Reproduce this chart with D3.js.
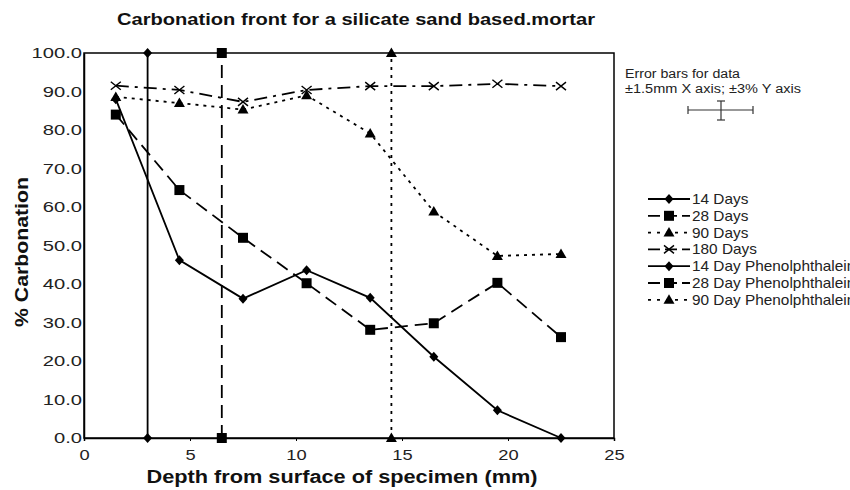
<!DOCTYPE html>
<html><head><meta charset="utf-8">
<script src="https://cdn.jsdelivr.net/npm/d3@7"></script>
<style>body{margin:0;background:#fff;} svg{display:block;font-family:"Liberation Sans",Arial,sans-serif;}</style>
</head><body>
<svg id="c" width="850" height="490"></svg>
<script>
const depths = [1.5, 4.5, 7.5, 10.5, 13.5, 16.5, 19.5, 22.5];
const days14 = [88, 46.2, 36.2, 43.6, 36.4, 21.1, 7.2, 0];
const days28 = [84, 64.4, 52, 40.2, 28.1, 29.8, 40.3, 26.2];
const days90 = [88.6, 87, 85.3, 89, 79.1, 58.8, 47.3, 47.8];
const days180 = [91.5, 90.4, 87.3, 90.4, 91.4, 91.4, 92, 91.4];
const phenol14 = {x: [3, 3], y: [0, 100]};
const phenol28 = {x: [6.5, 6.5], y: [0, 100]};
const phenol90 = {x: [14.5, 14.5], y: [0, 100]};
const xTicks = [0, 5, 10, 15, 20, 25];
const yTicks = [0, 10, 20, 30, 40, 50, 60, 70, 80, 90, 100];
const legendLabels = ["14 Days", "28 Days", "90 Days", "180 Days", "14 Day Phenolphthalein", "28 Day Phenolphthalein", "90 Day Phenolphthalein"];

const svg = d3.select("#c");
const L = 84, R = 614, T = 53, B = 438;
const x = d3.scaleLinear().domain([0, 25]).range([L, R]);
const y = d3.scaleLinear().domain([0, 100]).range([B, T]);

function stretch(sel, f) {
  sel.each(function () {
    const n = this.getComputedTextLength();
    d3.select(this).attr("textLength", n * f).attr("lengthAdjust", "spacingAndGlyphs");
  });
}
function fit(sel, w) { sel.attr("textLength", w).attr("lengthAdjust", "spacingAndGlyphs"); }

// title
fit(svg.append("text").attr("x", 356).attr("y", 25).attr("text-anchor", "middle")
  .attr("font-size", 17).attr("font-weight", "bold").attr("fill", "#111")
  .text("Carbonation front for a silicate sand based.mortar"), 478);

// frame
svg.append("rect").attr("x", L).attr("y", T).attr("width", R - L).attr("height", B - T)
  .attr("fill", "none").attr("stroke", "#000").attr("stroke-width", 1.5);

// axes
const xa = svg.append("g").attr("transform", `translate(0,${B})`)
  .call(d3.axisBottom(x).tickValues(xTicks).tickSize(3).tickFormat(d3.format("d")));
const ya = svg.append("g").attr("transform", `translate(${L},0)`)
  .call(d3.axisLeft(y).tickValues(yTicks).tickSize(0).tickPadding(2).tickFormat(d3.format(".1f")));
[xa, ya].forEach(a => {
  a.select(".domain").attr("stroke-width", 1.5);
  a.selectAll("text").attr("font-size", 15.5).attr("fill", "#222").attr("font-family", "Liberation Sans, Arial, sans-serif");
});
xa.selectAll("text").attr("dy", "1.0em");
stretch(xa.selectAll("text"), 1.18);
stretch(ya.selectAll("text"), 1.3);

fit(svg.append("text").attr("x", 342).attr("y", 483).attr("text-anchor", "middle")
  .attr("font-size", 18).attr("font-weight", "bold").attr("fill", "#111")
  .text("Depth from surface of specimen (mm)"), 391);
fit(svg.append("text").attr("transform", "translate(28,252) rotate(-90)").attr("text-anchor", "middle")
  .attr("font-size", 18).attr("font-weight", "bold").attr("fill", "#111").text("% Carbonation"), 150);

const dashes = {solid: null, dash: "13,7", dot: "3,5", dashdot: "13,6,3,6"};

function marker(g, type, cx, cy) {
  if (type === "diamond") g.append("path").attr("d", "M0,-5L4.5,0L0,5L-4.5,0Z").attr("transform", `translate(${cx},${cy})`).attr("fill", "#000");
  else if (type === "square") g.append("path").attr("d", d3.symbol(d3.symbolSquare, 100)()).attr("transform", `translate(${cx},${cy})`).attr("fill", "#000");
  else if (type === "triangle") g.append("path").attr("d", "M0,-5.5L5.5,4L-5.5,4Z").attr("transform", `translate(${cx},${cy})`).attr("fill", "#000");
  else if (type === "x") g.append("path").attr("d", "M-5,-4L5,4M-5,4L5,-4").attr("transform", `translate(${cx},${cy})`).attr("stroke", "#000").attr("stroke-width", 1.4).attr("fill", "none");
}

const series = [
  {xs: depths, ys: days14, dash: "solid", m: "diamond"},
  {xs: depths, ys: days28, dash: "dash", m: "square"},
  {xs: depths, ys: days90, dash: "dot", m: "triangle"},
  {xs: depths, ys: days180, dash: "dashdot", m: "x"},
  {xs: phenol14.x, ys: phenol14.y, dash: "solid", m: "diamond"},
  {xs: phenol28.x, ys: phenol28.y, dash: "dash", m: "square"},
  {xs: phenol90.x, ys: phenol90.y, dash: "dot", m: "triangle"}
];
const line = d3.line().x(d => x(d[0])).y(d => y(d[1]));
const plot = svg.append("g");
series.forEach(s => {
  const pts = s.xs.map((v, i) => [v, s.ys[i]]);
  plot.append("path").attr("d", line(pts)).attr("fill", "none").attr("stroke", "#000")
    .attr("stroke-width", 1.8).attr("stroke-dasharray", dashes[s.dash]);
  pts.forEach(p => marker(plot, s.m, x(p[0]), y(p[1])));
});

// legend
const lg = svg.append("g");
legendLabels.forEach((lab, i) => {
  const s = series[i];
  const cy = 199 + i * 16.8;
  lg.append("line").attr("x1", 648).attr("x2", 690).attr("y1", cy).attr("y2", cy)
    .attr("stroke", "#000").attr("stroke-width", 1.8).attr("stroke-dasharray", s.dash === "solid" ? null : (s.dash === "dot" ? "3,6" : "12,5"));
  marker(lg, s.m, 669, cy);
  stretch(lg.append("text").attr("x", 692).attr("y", cy + 5).attr("font-size", 14.5).attr("fill", "#222").text(lab), 1.06);
});

// error bar note
fit(svg.append("text").attr("x", 625).attr("y", 78).attr("font-size", 12.5).attr("fill", "#222").text("Error bars for data"), 115);
fit(svg.append("text").attr("x", 625).attr("y", 93).attr("font-size", 12.5).attr("fill", "#222").text("±1.5mm X axis; ±3% Y axis"), 176);
const eb = svg.append("g").attr("stroke", "#333").attr("stroke-width", 1.2);
eb.append("line").attr("x1", 688).attr("x2", 753).attr("y1", 110).attr("y2", 110);
eb.append("line").attr("x1", 688).attr("x2", 688).attr("y1", 106).attr("y2", 114);
eb.append("line").attr("x1", 753).attr("x2", 753).attr("y1", 106).attr("y2", 114);
eb.append("line").attr("x1", 721).attr("x2", 721).attr("y1", 101).attr("y2", 120);
eb.append("line").attr("x1", 717).attr("x2", 725).attr("y1", 101).attr("y2", 101);
eb.append("line").attr("x1", 717).attr("x2", 725).attr("y1", 120).attr("y2", 120);
</script>
</body></html>
